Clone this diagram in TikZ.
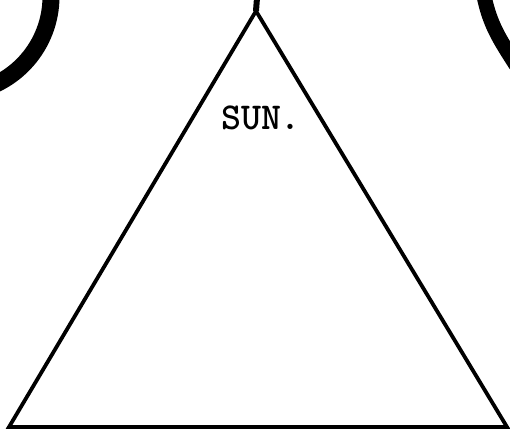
\documentclass[tikz,border=0pt]{standalone}
\usepackage{tikz}
\usetikzlibrary{calc}

\begin{document}
\begin{tikzpicture}[
  x=1pt,y=1pt,
  edge/.style={line width=3.8pt,line join=miter},
  rim/.style={line width=17pt},
  lbl/.style={font=\ttfamily\fontsize{38}{40}\selectfont,inner sep=0pt}
]
\useasboundingbox (0,0) rectangle (510,430);
\clip (0,0) rectangle (510,430);
\coordinate (apex) at (256,419);
\coordinate (bl) at (9,3);
\coordinate (br) at (507,3);
\coordinate (top) at (257,432);
% triangle
\draw[edge] (apex) -- (bl) -- (br) -- cycle;
\draw[line width=6pt] (apex) -- (top);
% the two dark rims
\draw[rim] (-46,433.5) ++(8:97) arc[start angle=8,end angle=-75,radius=97];
\draw[line width=15pt] (484,434) .. controls (490,405) and (500,390) .. (516,365);
\node[lbl] (sun) at (261,312) {\textbf{SUN.}};
\end{tikzpicture}
\end{document}
